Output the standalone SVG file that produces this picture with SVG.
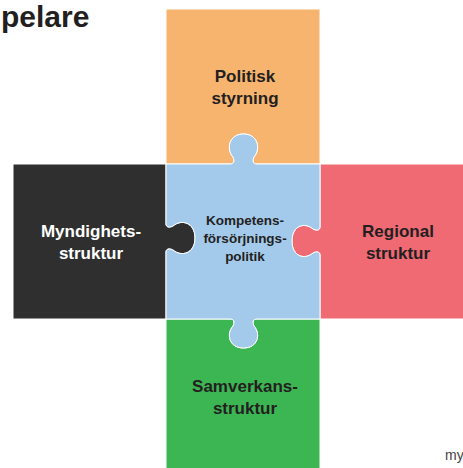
<svg xmlns="http://www.w3.org/2000/svg" width="463" height="468" viewBox="0 0 463 468">
<style>
.pc{stroke:#fff;stroke-width:1}
.lbl{font-family:"Liberation Sans",Arial,sans-serif;font-weight:bold;font-size:17px;text-anchor:middle;fill:#231f20}
.sm{font-size:13.5px}
.wt{fill:#fff}
</style>
<rect width="463" height="468" fill="#fff"/>
<text x="1" y="27" font-family="Liberation Sans,Arial,sans-serif" font-weight="bold" font-size="30" fill="#231f20">pelare</text>
<g id="politisk-styrning">
<path class="pc" fill="#F6B46E" d="M166,9 H320 V164 H257 C253,164 252,161 254,157 C261,149 258,134 243.5,134 C229,134 226,149 233,157 C235,161 234,164 230,164 H166 Z"/>
<text class="lbl" x="245" y="82">Politisk</text>
<text class="lbl" x="245" y="104">styrning</text>
</g>
<g id="myndighetsstruktur">
<path class="pc" fill="#2F2F2F" d="M13,164 H166 V224 C166,227 169,228 173,226 C181,219 195,222 195,238 C195,254 181,257 173,250 C169,248 166,249 166,252 V319 H13 Z"/>
<text class="lbl wt" x="91" y="237">Myndighets-</text>
<text class="lbl wt" x="91" y="259">struktur</text>
</g>
<g id="regional-struktur">
<path class="pc" fill="#F06A74" d="M320,164 H464 V319 H320 V255 C320,252 317,251 313,253 C305,260 292,257 292,241 C292,225 305,222 313,229 C317,231 320,230 320,227 Z"/>
<text class="lbl" x="398" y="237">Regional</text>
<text class="lbl" x="398" y="259">struktur</text>
</g>
<g id="samverkansstruktur">
<path class="pc" fill="#3CB553" d="M166,319 H230 C234,319 235,322 233,326 C226,334 229,348 243.5,348 C258,348 261,334 254,326 C252,322 253,319 257,319 H320 V469 H166 Z"/>
<text class="lbl" x="245" y="392">Samverkans-</text>
<text class="lbl" x="245" y="414">struktur</text>
</g>
<g id="kompetensforsorjningspolitik">
<path class="pc" fill="#A3CAEB" d="M166,164 H230 C234,164 235,161 233,157 C226,149 229,134 243.5,134 C258,134 261,149 254,157 C252,161 253,164 257,164 H320 V227 C320,230 317,231 313,229 C305,222 292,225 292,241 C292,257 305,260 313,253 C317,251 320,252 320,255 V319 H257 C253,319 252,322 254,326 C261,334 258,348 243.5,348 C229,348 226,334 233,326 C235,322 234,319 230,319 H166 V252 C166,249 169,248 173,250 C181,257 195,254 195,238 C195,222 181,219 173,226 C169,228 166,227 166,224 Z"/>
<text class="lbl sm" x="245" y="225">Kompetens-</text>
<text class="lbl sm" x="245" y="243">försörjnings-</text>
<text class="lbl sm" x="245" y="261">politik</text>
</g>
<g id="connectors"></g>
<text x="445" y="460" font-family="Liberation Sans,Arial,sans-serif" font-size="14" fill="#444">my</text>
</svg>
